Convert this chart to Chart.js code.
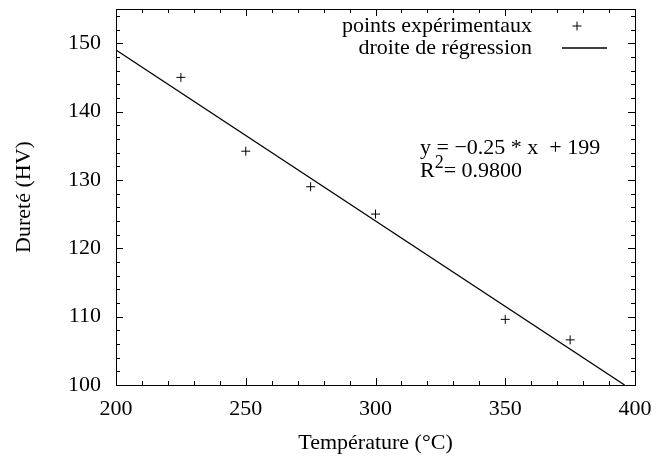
<!DOCTYPE html>
<html>
<head>
<meta charset="utf-8">
<script src="https://cdn.jsdelivr.net/npm/chart.js@4.4.1/dist/chart.umd.min.js"></script>
<style>
  html, body { margin: 0; padding: 0; background: #fff; }
  #wrap { width: 658px; height: 459px; }
</style>
</head>
<body>
<div id="wrap"><canvas id="chart"></canvas></div>
<script>
// Measured points
const temperatures = [225, 250, 275, 300, 350, 375];
const hardness = [145, 134.2, 129, 125, 109.6, 106.6];

// Regression line end points
const fitX = [200, 396];
const fitY = [149, 100];

// Axis ticks
const xTicks = [200, 250, 300, 350, 400];
const yTicks = [100, 110, 120, 130, 140, 150];

const fitEquation = 'y = \u22120.25 * x  + 199';
const fitR2 = '= 0.9800';

const FONT = '"Liberation Serif", "Times New Roman", serif';
const SIZE = 22;

// drop the label overflow padding chart.js adds, the frame is fixed by layout.padding
function noEdgePadding(s) {
    s.paddingTop = 0;
    s.paddingBottom = 0;
    s.paddingLeft = 0;
    s.paddingRight = 0;
}

// Frame with gnuplot-style inward ticks (major + minor, mirrored)
const framePlugin = {
    id: 'frame',
    afterDatasetsDraw(chart) {
        const { ctx, chartArea: a, scales: { x, y } } = chart;
        ctx.save();
        ctx.strokeStyle = '#000';
        ctx.lineWidth = 1;
        ctx.beginPath();
        for (let v = x.min; v <= x.max; v += 10) {
            const px = Math.round(x.getPixelForValue(v)) + 0.5;
            const len = v % 50 === 0 ? 7 : 4;
            ctx.moveTo(px, a.bottom); ctx.lineTo(px, a.bottom - len);
            ctx.moveTo(px, a.top); ctx.lineTo(px, a.top + len);
        }
        for (let v = y.min; v <= y.max; v += 2) {
            const py = Math.round(y.getPixelForValue(v)) + 0.5;
            const len = v % 10 === 0 ? 7 : 4;
            ctx.moveTo(a.left, py); ctx.lineTo(a.left + len, py);
            ctx.moveTo(a.right, py); ctx.lineTo(a.right - len, py);
        }
        ctx.stroke();
        ctx.strokeRect(Math.round(a.left) + 0.5, Math.round(a.top) + 0.5,
            Math.round(a.right - a.left), Math.round(a.bottom - a.top));
        ctx.restore();
    }
};

// Key (top right, text right-aligned, sample on the right) + fit annotation
const keyPlugin = {
    id: 'key',
    afterDraw(chart) {
        const { ctx, chartArea: a } = chart;
        const ds = chart.data.datasets;
        ctx.save();
        ctx.font = `${SIZE}px ${FONT}`;
        ctx.fillStyle = '#000';
        ctx.strokeStyle = '#000';
        ctx.textBaseline = 'middle';

        const textRight = a.right - 103;
        const rows = [a.top + 17, a.top + 39];
        ctx.textAlign = 'right';
        ds.forEach((d, i) => ctx.fillText(d.label, textRight, rows[i]));

        ctx.lineWidth = 1;
        ctx.beginPath();
        const cx = a.right - 58;
        ctx.moveTo(cx - 4.5, rows[0]); ctx.lineTo(cx + 4.5, rows[0]);
        ctx.moveTo(cx, rows[0] - 4.5); ctx.lineTo(cx, rows[0] + 4.5);
        ctx.stroke();
        ctx.lineWidth = 1.3;
        ctx.beginPath();
        ctx.moveTo(a.right - 73, rows[1]); ctx.lineTo(a.right - 28, rows[1]);
        ctx.stroke();

        // equation
        ctx.textAlign = 'left';
        const ex = 420;
        ctx.fillText(fitEquation, ex, 148);
        ctx.fillText('R', ex, 171);
        const rw = ctx.measureText('R').width;
        ctx.font = `${Math.round(SIZE * 0.8)}px ${FONT}`;
        ctx.fillText('2', ex + rw, 163);
        const sw = ctx.measureText('2').width;
        ctx.font = `${SIZE}px ${FONT}`;
        ctx.fillText(fitR2, ex + rw + sw, 171);
        ctx.restore();
    }
};

new Chart(document.getElementById('chart'), {
    type: 'scatter',
    data: {
        datasets: [{
            label: 'points expérimentaux',
            data: temperatures.map((t, i) => ({ x: t, y: hardness[i] })),
            pointStyle: 'cross',
            pointRadius: 4.5,
            pointBorderWidth: 1,
            borderColor: '#000',
            backgroundColor: '#000'
        }, {
            label: 'droite de régression',
            type: 'line',
            data: fitX.map((t, i) => ({ x: t, y: fitY[i] })),
            borderColor: '#000',
            borderWidth: 1.3,
            pointRadius: 0,
            fill: false
        }]
    },
    options: {
        responsive: true,
        maintainAspectRatio: false,
        animation: false,
        layout: {
            autoPadding: false,
            padding: { left: 0, right: 23, top: 9, bottom: 0 }
        },
        plugins: {
            legend: { display: false },
            tooltip: { enabled: false }
        },
        scales: {
            x: {
                type: 'linear',
                min: 200, max: 400,
                afterBuildTicks: s => { s.ticks = xTicks.map(v => ({ value: v })); },
                afterFit: s => { s.height = 74; noEdgePadding(s); },
                grid: { display: false, drawTicks: false },
                border: { display: false },
                ticks: { color: '#000', padding: 11, maxRotation: 0, font: { family: FONT, size: SIZE } },
                title: {
                    display: true, text: 'Température (°C)', color: '#000',
                    font: { family: FONT, size: SIZE }, padding: { top: 0, bottom: 3 }
                }
            },
            y: {
                type: 'linear',
                min: 100, max: 155,
                afterBuildTicks: s => { s.ticks = yTicks.map(v => ({ value: v })); },
                afterFit: s => { s.width = 116; noEdgePadding(s); },
                grid: { display: false, drawTicks: false },
                border: { display: false },
                ticks: { color: '#000', padding: 15, font: { family: FONT, size: SIZE } },
                title: {
                    display: true, text: 'Dureté (HV)', color: '#000',
                    font: { family: FONT, size: SIZE }, padding: { top: 11, bottom: 0 }
                }
            }
        }
    },
    plugins: [framePlugin, keyPlugin]
});
</script>
</body>
</html>
